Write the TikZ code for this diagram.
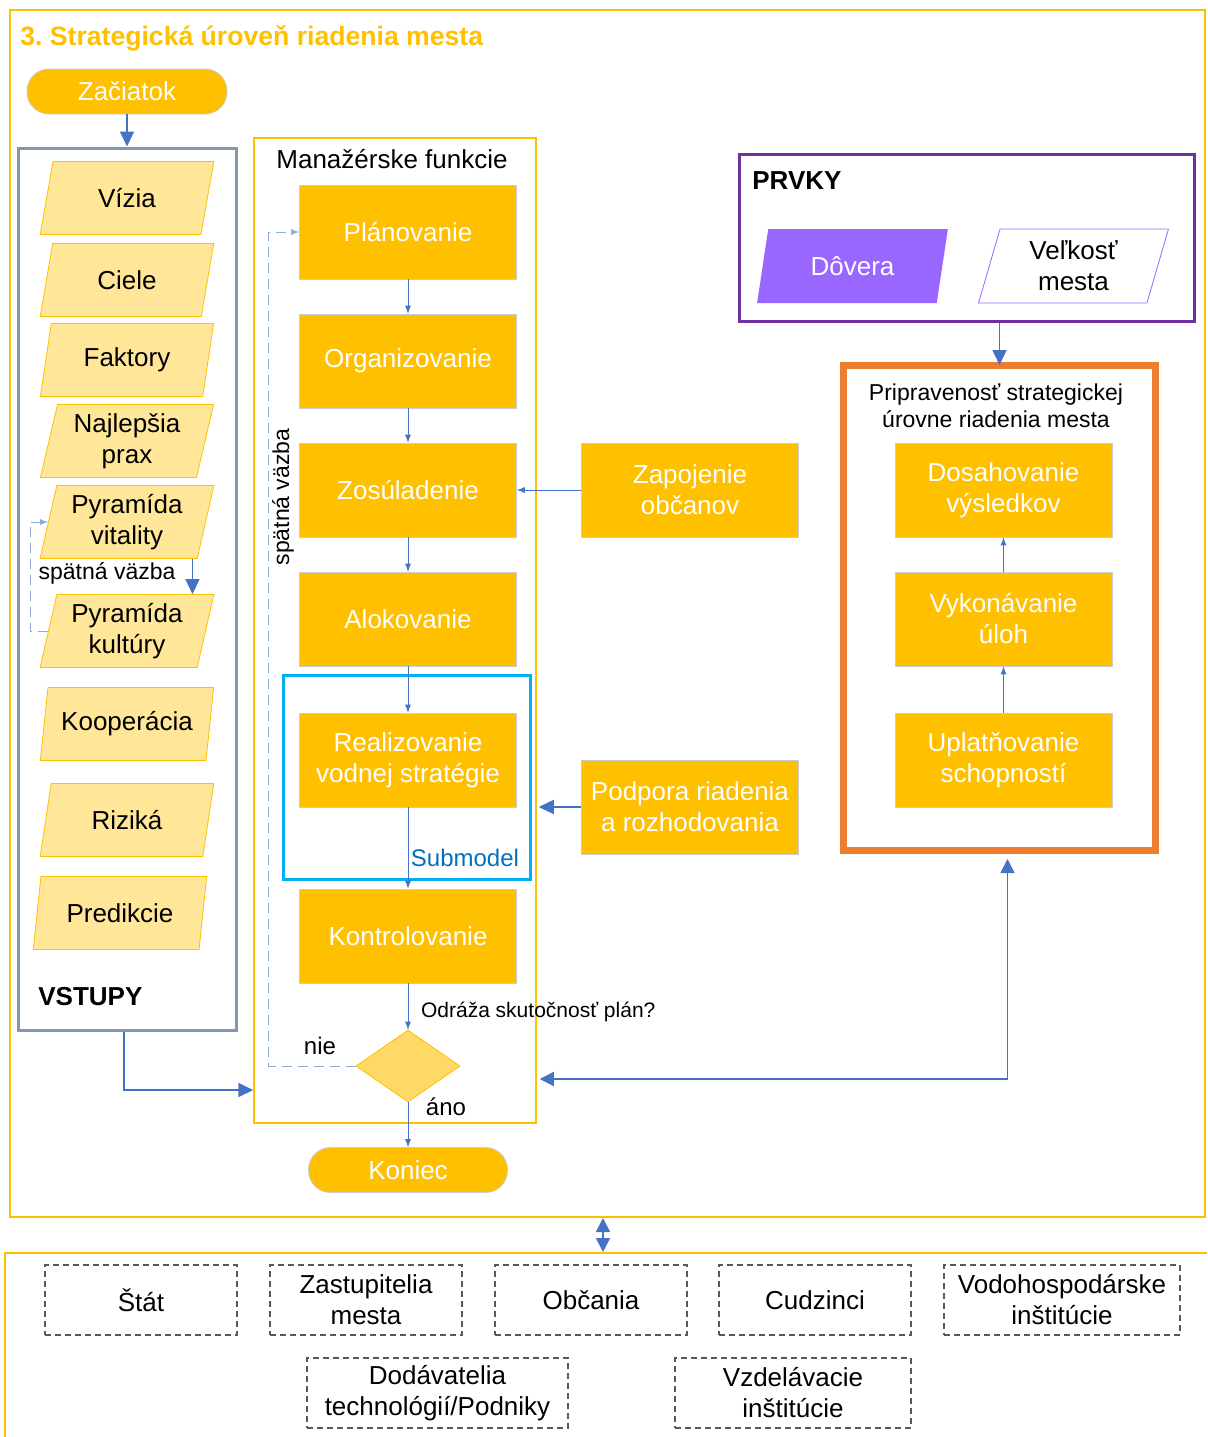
\documentclass[tikz,border=0pt]{standalone}
\usepackage{fontspec}
\setmainfont{Liberation Sans}
\usetikzlibrary{shapes.geometric,arrows.meta}

\definecolor{gold}{HTML}{FFC000}
\definecolor{paleGold}{HTML}{FFE699}
\definecolor{diaGold}{HTML}{FFD966}
\definecolor{arrBlue}{HTML}{4472C4}
\definecolor{fbBlue}{HTML}{8FAADC}
\definecolor{inGray}{HTML}{8497B0}
\definecolor{subCyan}{HTML}{00B0F0}
\definecolor{subText}{HTML}{0070C0}
\definecolor{prPurple}{HTML}{7030A0}
\definecolor{prViolet}{HTML}{9966FF}
\definecolor{readyOrange}{HTML}{ED7D31}
\definecolor{boxEdge}{HTML}{C8CCD4}
\definecolor{actorGray}{HTML}{595959}

\begin{document}
\begin{tikzpicture}[x=0.5pt,y=-0.5pt,>=latex,
    font=\fontsize{13}{15.5}\selectfont,
    func node/.style={rectangle,draw=boxEdge,fill=gold,text=white,align=center,
      minimum width=108.5pt,minimum height=47pt,inner sep=1pt},
    term node/.style={rectangle,rounded corners=11pt,draw=boxEdge,fill=gold,
      text=white,minimum height=22.5pt},
    input node/.style={trapezium,trapezium left angle=77,trapezium right angle=103,
      trapezium stretches=true,draw=gold,fill=paleGold,align=center,
      minimum width=87pt,minimum height=36.5pt,inner sep=1pt},
    elem node/.style={trapezium,trapezium left angle=76,trapezium right angle=104,
      trapezium stretches=true,align=center,minimum width=95.5pt,
      minimum height=37pt,inner sep=1pt},
    actor node/.style={rectangle,draw=actorGray,line width=0.75pt,
      dash pattern=on 3pt off 2pt,align=center,minimum height=35pt,inner sep=1pt},
    frame node/.style={rectangle,draw,inner sep=0pt},
    heading/.style={font=\bfseries\fontsize{13}{15.5}\selectfont},
    small text/.style={font=\fontsize{11.5}{13.5}\selectfont},
    flow/.style={->,draw=arrBlue,thin},
    bigflow/.style={-{Triangle[length=7.5pt,width=7pt]},draw=arrBlue,thick},
    bigboth/.style={{Triangle[length=7pt,width=7pt]}-{Triangle[length=7pt,width=7pt]},
      draw=arrBlue,thick},
    feedback/.style={->,draw=fbBlue,thin,dash pattern=on 5pt off 3pt}]

  \clip (0,0) rectangle (1207,1437);
  \fill[white] (0,0) rectangle (1207,1437);

  % frames
  \node[frame node,draw=gold,line width=1pt,minimum width=597.5pt,
    minimum height=603.5pt] (upper) at (607.5,613.5) {};
  \node[frame node,draw=gold,line width=1pt,minimum width=612.5pt,
    minimum height=103.5pt] (lower) at (617.5,1356.5) {};
  \node[anchor=west,inner sep=0pt,text=gold,font=\bfseries\fontsize{13.3}{16}\selectfont]
    (title) at (20,38) {3.\ Strategická úroveň riadenia mesta};

  \node[term node,minimum width=100pt] (start) at (127,91.5) {Začiatok};

  % inputs
  \node[frame node,draw=inGray,line width=1.5pt,minimum width=109pt,
    minimum height=441pt] (vstupy) at (127,589) {};
  \node[anchor=west,heading,inner sep=0pt] (vstupyLbl) at (38,997) {VSTUPY};
  \node[input node] (vizia) at (127,198) {Vízia};
  \node[input node] (ciele) at (127,280) {Ciele};
  \node[input node] (faktory) at (127,360) {Faktory};
  \node[input node] (prax) at (127,441) {Najlepšia\\prax};
  \node[input node] (vitalita) at (127,522) {Pyramída\\vitality};
  \node[input node] (kultura) at (127,631) {Pyramída\\kultúry};
  \node[input node] (kooper) at (127,724) {Kooperácia};
  \node[input node] (rizika) at (127,820) {Riziká};
  \node[input node] (predik) at (120,913) {Predikcie};
  \node[small text] (fbLeft) at (107,573) {spätná väzba};

  % managerial functions
  \node[frame node,draw=gold,line width=0.75pt,minimum width=141pt,
    minimum height=492.5pt] (funcs) at (395,630.5) {};
  \node (funcsLbl) at (392,159) {Manažérske funkcie};
  \node[frame node,draw=subCyan,line width=1.5pt,minimum width=123.5pt,
    minimum height=102pt] (submodel) at (406.5,777) {};
  \node[func node] (plan) at (408,232) {Plánovanie};
  \node[func node,below of=plan,node distance=64.5pt] (organ) {Organizovanie};
  \node[func node,below of=organ,node distance=64.5pt] (zosul) {Zosúladenie};
  \node[func node,below of=zosul,node distance=64.5pt] (aloc) {Alokovanie};
  \node[func node] (realiz) at (408,760) {Realizovanie\\vodnej stratégie};
  \node[func node] (kontrol) at (408,936) {Kontrolovanie};
  \node[text=subText,font=\fontsize{12}{14}\selectfont]
    (subLbl) at (465,858) {Submodel};
  \node[diamond,draw=gold,fill=diaGold,minimum width=52pt,minimum height=36pt,
    aspect=1.44,inner sep=0pt] (check) at (408,1066) {};
  \node[anchor=west,font=\fontsize{10.5}{12}\selectfont] (checkLbl) at (414,1012)
    {Odráža skutočnosť plán?};
  \node[font=\fontsize{12}{14}\selectfont] (nie) at (320,1046) {nie};
  \node[font=\fontsize{12}{14}\selectfont] (ano) at (446,1107) {áno};
  \node[term node,minimum width=99.5pt] (koniec) at (408,1170) {Koniec};
  \node[small text,rotate=90] (fbMid) at (283,497) {spätná väzba};

  \node[func node] (zapoj) at (690,490) {Zapojenie\\občanov};
  \node[func node] (podpora) at (690,807) {Podpora riadenia\\a rozhodovania};

  % elements and readiness
  \node[frame node,draw=prPurple,line width=1.5pt,minimum width=227.5pt,
    minimum height=83.5pt] (prvky) at (966.5,237.5) {};
  \node[anchor=west,heading,inner sep=0pt] (prvkyLbl) at (752,181) {PRVKY};
  \node[elem node,fill=prViolet,text=white] (dovera) at (852.5,266) {Dôvera};
  \node[elem node,draw=prViolet,fill=white] (velkost) at (1073.5,266) {Veľkosť\\mesta};
  \node[frame node,draw=readyOrange,line width=3.5pt,minimum width=156pt,
    minimum height=242.5pt] (ready) at (999.5,608) {};
  \node[small text,align=center] (readyLbl) at (996,406)
    {Pripravenosť strategickej\\úrovne riadenia mesta};
  \node[func node] (dosah) at (1003.5,490) {Dosahovanie\\výsledkov};
  \node[func node] (vykon) at (1003.5,619) {Vykonávanie\\úloh};
  \node[func node] (uplat) at (1003.5,760) {Uplatňovanie\\schopností};

  % actors
  \node[actor node,minimum width=96pt] (stat) at (141,1300) {Štát};
  \node[actor node,minimum width=96pt] (zastup) at (366,1300) {Zastupitelia\\mesta};
  \node[actor node,minimum width=96pt] (obcania) at (591,1300) {Občania};
  \node[actor node,minimum width=96pt] (cudzinci) at (815,1300) {Cudzinci};
  \node[actor node,minimum width=118pt] (vodohosp) at (1062,1300)
    {Vodohospodárske\\inštitúcie};
  \node[actor node,minimum width=130.5pt] (dodav) at (437.5,1393)
    {Dodávatelia\\technológií/Podniky};
  \node[actor node,minimum width=118pt] (vzdel) at (793,1393)
    {Vzdelávacie\\inštitúcie};

  \coordinate (inRow) at (150,1090);
  \coordinate (backRow) at (700,1079);
  \coordinate (linkAt) at (603,1235);

  \draw[bigflow] (start) -- (vstupy.north);
  \draw[feedback] (kultura.west) -- ++(-18,0) |- (vitalita.west);
  \draw[bigflow] ([xshift=-2.5pt]vitalita.bottom right corner)
    -- ([xshift=-2.5pt]vitalita.bottom right corner |- kultura.north);
  \draw[bigflow] ([xshift=-1.5pt]vstupy.south) |- (funcs.west |- inRow);

  \draw[flow] (plan) -- (organ);
  \draw[flow] (organ) -- (zosul);
  \draw[flow] (zosul) -- (aloc);
  \draw[flow] (aloc) -- (realiz);
  \draw[flow] (realiz) -- (kontrol);
  \draw[flow] (kontrol) -- (check);
  \draw[flow] (check) -- (koniec);
  \draw[feedback] (check.west) -- ++(-87,0) |- (plan.west);
  \draw[flow] (zapoj) -- (zosul);
  \draw[bigflow,shorten >=1pt] (podpora) -- (podpora.west -| funcs.east);

  \draw[bigflow] (prvky.south -| ready.north) -- ([yshift=-1.5pt]ready.north);
  \draw[flow] (vykon) -- (dosah);
  \draw[flow] (uplat) -- (vykon);
  \draw[bigboth,shorten <=1.5pt,shorten >=2.5pt]
    (funcs.east |- backRow) -| ([xshift=4pt]ready.south);

  \draw[bigboth] (upper.south -| linkAt) -- (lower.north -| linkAt);
\end{tikzpicture}
\end{document}
